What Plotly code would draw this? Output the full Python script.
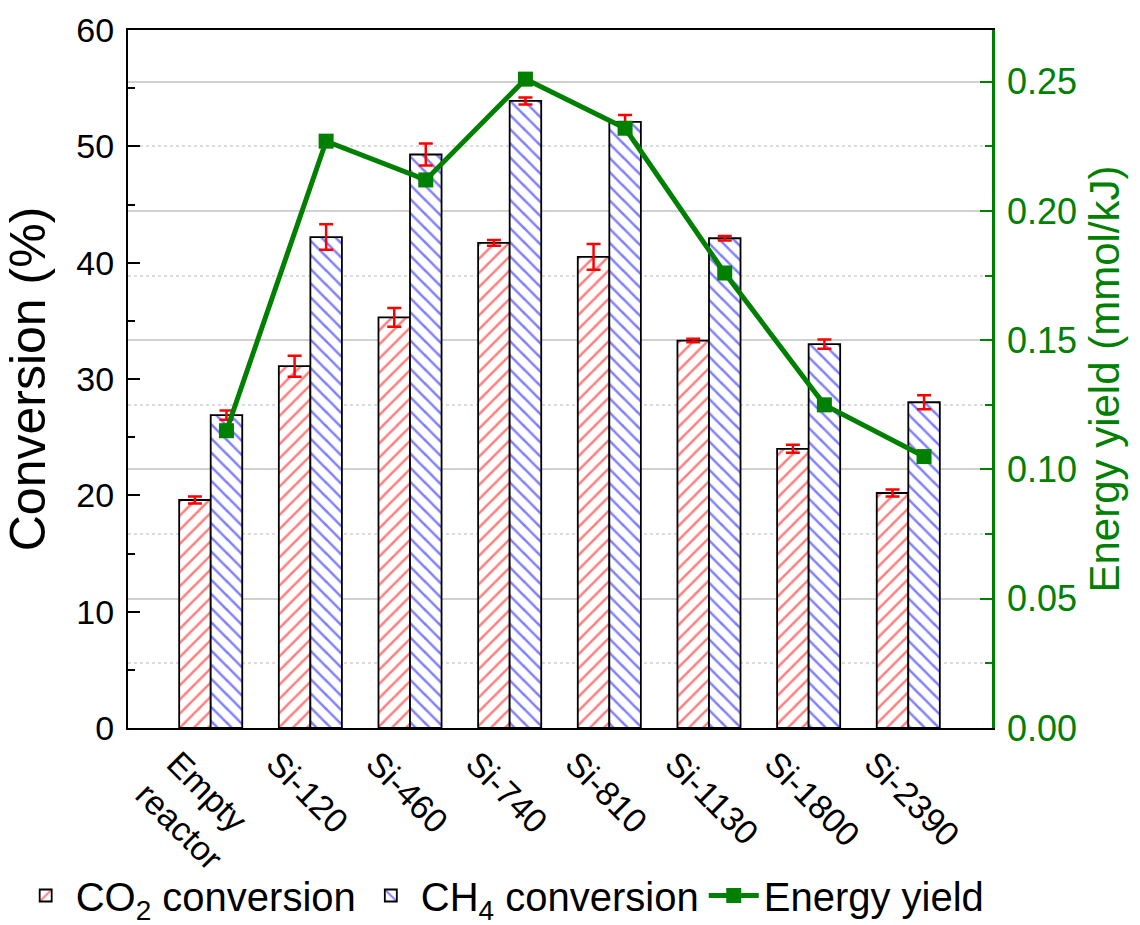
import plotly.graph_objects as go

categories = ["Empty<br>reactor", "Si-120", "Si-460", "Si-740", "Si-810", "Si-1130", "Si-1800", "Si-2390"]
co2_conv = [19.6, 31.1, 35.3, 41.7, 40.5, 33.3, 24.0, 20.2]
co2_err = [0.3, 0.9, 0.8, 0.25, 1.1, 0.15, 0.35, 0.3]
ch4_conv = [26.9, 42.2, 49.3, 53.9, 52.1, 42.1, 33.0, 28.0]
ch4_err = [0.4, 1.1, 0.95, 0.3, 0.6, 0.2, 0.4, 0.6]
energy_yield = [0.115, 0.227, 0.212, 0.251, 0.232, 0.176, 0.125, 0.105]

idx = list(range(len(categories)))
bar_w = 0.316
line_x = [i + bar_w / 2 for i in idx]

GREEN = "#008000"
FONT = "Arial"

fig = go.Figure()
fig.add_trace(go.Bar(
    x=idx, y=co2_conv, name="CO<sub>2</sub> conversion",
    marker=dict(color="white", line=dict(color="black", width=1.8),
                pattern=dict(shape="/", fgcolor="red", bgcolor="white", size=10, solidity=0.25)),
    error_y=dict(type="data", array=co2_err, color="red", thickness=2.5, width=7),
))
fig.add_trace(go.Bar(
    x=idx, y=ch4_conv, name="CH<sub>4</sub> conversion",
    marker=dict(color="white", line=dict(color="black", width=1.8),
                pattern=dict(shape="\\", fgcolor="blue", bgcolor="white", size=10, solidity=0.25)),
    error_y=dict(type="data", array=ch4_err, color="red", thickness=2.5, width=7),
))
fig.add_trace(go.Scatter(
    x=line_x, y=energy_yield, name="Energy yield", yaxis="y2",
    mode="lines+markers",
    line=dict(color=GREEN, width=5),
    marker=dict(symbol="square", size=15, color=GREEN),
))

fig.update_layout(
    width=1140, height=925,
    margin=dict(l=128, r=148, t=30, b=197, autoexpand=False),
    paper_bgcolor="white", plot_bgcolor="white",
    barmode="group", bargap=0.367, bargroupgap=0,
    font=dict(family=FONT, color="black", size=34),
    showlegend=True,
    legend=dict(orientation="h", x=-0.13, xanchor="left", y=-0.24, yanchor="middle",
                font=dict(size=40, family=FONT), itemwidth=50, tracegroupgap=0,
                bgcolor="rgba(0,0,0,0)"),
    xaxis=dict(
        range=[-0.83, 7.84], tickmode="array", tickvals=idx, ticktext=categories,
        tickangle=45, ticks="", showgrid=False, zeroline=False, automargin=False,
        showline=True, linecolor="black", linewidth=2, mirror=True,
        tickfont=dict(size=34, family=FONT), ticklabelshift=-34,
    ),
    yaxis=dict(
        range=[0, 60], dtick=10, ticks="inside", ticklen=12, tickwidth=2, tickcolor="black",
        minor=dict(dtick=5, ticks="inside", ticklen=7, tickwidth=2, tickcolor="black", showgrid=False),
        showline=True, linecolor="black", linewidth=2, showgrid=False, zeroline=False,
        automargin=False, ticklabelstandoff=5,
        title=dict(text="Conversion (%)", font=dict(size=50, family=FONT), standoff=20),
        tickfont=dict(size=34, family=FONT),
    ),
    yaxis2=dict(
        overlaying="y", side="right", range=[0, 0.27], dtick=0.05, tickformat=".2f",
        ticks="inside", ticklen=12, tickwidth=2, tickcolor=GREEN, automargin=False,
        ticklabelstandoff=5,
        minor=dict(dtick=0.025, ticks="inside", ticklen=7, tickwidth=2, tickcolor=GREEN,
                   showgrid=True, gridcolor="#dcdcdc", griddash="dot", gridwidth=1.5),
        showline=True, linecolor=GREEN, linewidth=2.5, zeroline=False,
        showgrid=True, gridcolor="#d0d0d0", gridwidth=1.5,
        title=dict(text="Energy yield (mmol/kJ)", font=dict(size=42, family=FONT, color=GREEN), standoff=14),
        tickfont=dict(size=36, family=FONT, color=GREEN),
    ),
)

fig.write_html("out.html", config={"displayModeBar": False},
               post_script="document.body.style.margin='0';document.body.style.overflow='hidden';")
